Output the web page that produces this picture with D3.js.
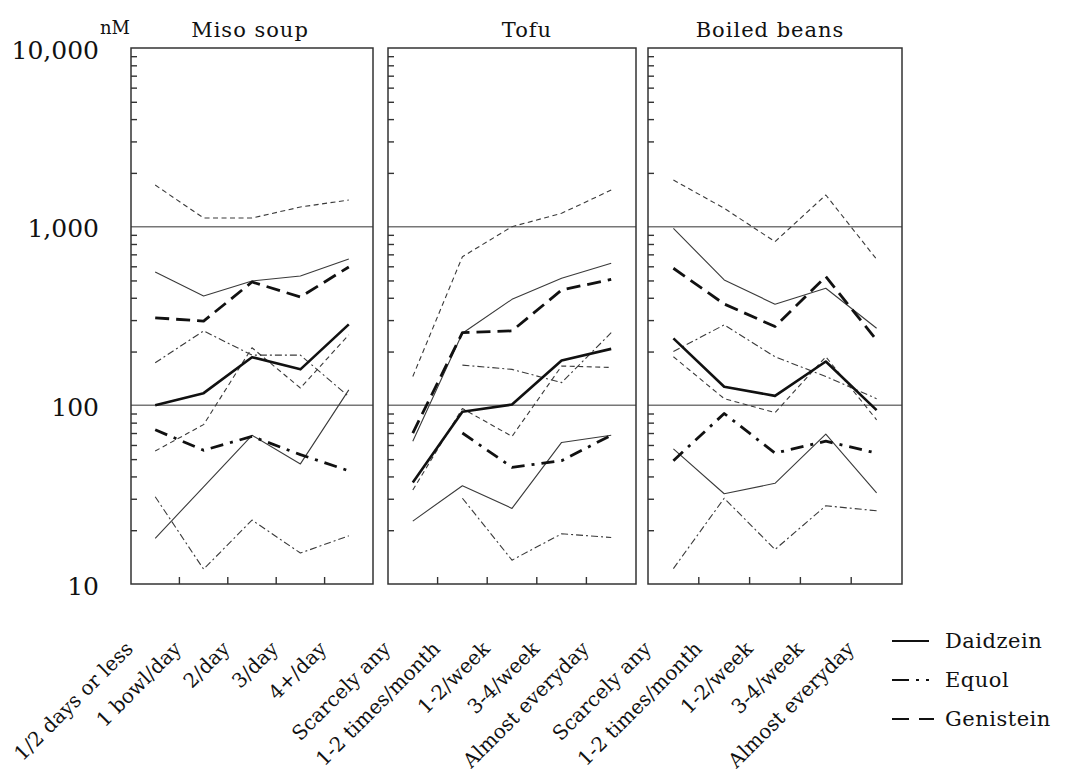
<!DOCTYPE html>
<html>

<head>
    <meta charset="UTF-8">
    <title>Isoflavones by soy food intake</title>
    <script src="https://d3js.org/d3.v7.min.js"></script>
    <style>
        body { margin: 0; background: #fff; }
        svg text { font-family: "DejaVu Serif", "Liberation Serif", serif; fill: #111; }
    </style>
</head>

<body>
    <div class="canvas"></div>

    <script>
        // panels & categories
        const panelNames = ["Miso soup", "Tofu", "Boiled beans"];
        const misoFreq = ["1/2 days or less", "1 bowl/day", "2/day", "3/day", "4+/day"];
        const tofuFreq = ["Scarcely any", "1-2 times/month", "1-2/week", "3-4/week", "Almost everyday"];
        const beansFreq = ["Scarcely any", "1-2 times/month", "1-2/week", "3-4/week", "Almost everyday"];
        const yTickLabels = [10, 100, 1000, 10000];

        // values (nM) per panel: [miso, tofu, beans]; thick = median, thin = upper / lower
        const daidzeinMid = [[100, 117, 186, 159, 284], [37, 92, 101, 178, 207], [237, 127, 113, 176, 94]];
        const equolMid = [[73, 56, 67, 53, 43], [null, 70, 45, 49, 68], [49, 90, 54, 63, 54]];
        const genisteinMid = [[309, 296, 490, 404, 595], [70, 255, 261, 442, 507], [585, 369, 276, 525, 232]];

        const daidzeinHigh = [[557, 409, 497, 530, 659], [63, 253, 392, 514, 624], [979, 503, 368, 452, 270]];
        const equolHigh = [[173, 261, 191, 191, 112], [null, 168, 159, 134, 255], [200, 282, 187, 145, 109]];
        const genisteinHigh = [[1710, 1118, 1118, 1288, 1410], [145, 679, 1000, 1188, 1604], [1824, 1267, 824, 1504, 657]];

        const daidzeinLow = [[18, 35, 68, 47, 122], [22.5, 35.5, 26.5, 62, 68], [57, 32, 36.6, 69, 32.4]];
        const equolLow = [[30.8, 12.1, 22.8, 14.9, 18.6], [null, 30.2, 13.6, 19.1, 18.2], [12.2, 30.2, 15.6, 27.4, 25.7]];
        const genisteinLow = [[55.5, 78, 210, 125, 248], [33.6, 96, 67, 166, 163], [187, 109, 91, 187, 83]];

        const legendNames = ["Daidzein", "Equol", "Genistein"];

        // dimensions
        const width = 1082;
        const height = 777;
        const plotTop = 48, plotBottom = 584;
        const panelX = [[131, 373], [388, 636], [648, 902]];
        const titleShift = [-2, 15, -5];
        const cats = [misoFreq, tofuFreq, beansFreq];
        const serif = '"DejaVu Serif", "Liberation Serif", serif';

        // line styles
        const styles = {
            Daidzein: { thick: { w: 2.6, dash: null }, thin: { w: 1.1, dash: null } },
            Equol: { thick: { w: 2.8, dash: "13,7,3,7" }, thin: { w: 1.1, dash: "7,3,2,3" } },
            Genistein: { thick: { w: 2.8, dash: "14,7" }, thin: { w: 1.1, dash: "5,3.5" } }
        };

        const series = [
            { name: "Daidzein", kind: "thin", values: daidzeinHigh },
            { name: "Equol", kind: "thin", values: equolHigh },
            { name: "Genistein", kind: "thin", values: genisteinHigh },
            { name: "Daidzein", kind: "thin", values: daidzeinLow },
            { name: "Equol", kind: "thin", values: equolLow },
            { name: "Genistein", kind: "thin", values: genisteinLow },
            { name: "Genistein", kind: "thick", values: genisteinMid },
            { name: "Equol", kind: "thick", values: equolMid },
            { name: "Daidzein", kind: "thick", values: daidzeinMid }
        ];

        const svg = d3.select(".canvas")
            .append("svg")
            .attr("width", width)
            .attr("height", height)
            .attr("font-family", serif)
            .style("background", "#fff");

        const yScale = d3.scaleLog()
            .domain([10, 10000])
            .range([plotBottom, plotTop]);

        // y labels (left of first panel)
        const yAxis = d3.axisLeft(yScale)
            .tickValues(yTickLabels)
            .tickFormat(d3.format(","))
            .tickSize(0)
            .tickPadding(0);

        const yAxisGroup = svg.append("g")
            .attr("transform", "translate(99, 2)")
            .call(yAxis)
            .attr("font-family", serif);
        yAxisGroup.select(".domain").remove();
        yAxisGroup.selectAll("text")
            .attr("font-size", 25)
            .attr("fill", "#111");

        svg.append("text")
            .attr("x", 100)
            .attr("y", 34)
            .attr("font-size", 18)
            .text("nM");

        panelNames.forEach((name, i) => {
            const [x0, x1] = panelX[i];
            const xScale = d3.scaleBand()
                .domain(cats[i])
                .range([x0, x1])
                .padding(0);

            const g = svg.append("g");

            // decade lines
            g.selectAll("line.grid")
                .data([100, 1000])
                .enter()
                .append("line")
                .attr("x1", x0).attr("x2", x1)
                .attr("y1", (d) => yScale(d)).attr("y2", (d) => yScale(d))
                .attr("stroke", "#777")
                .attr("stroke-width", 1.5);

            // minor ticks inside left edge
            const minor = yScale.ticks().filter((d) => !yTickLabels.includes(d));
            const tickAxis = d3.axisRight(yScale)
                .tickValues(minor)
                .tickSize(6)
                .tickFormat("");
            const tg = g.append("g")
                .attr("transform", `translate(${x0}, 0)`)
                .call(tickAxis);
            tg.select(".domain").remove();
            tg.selectAll("line").attr("stroke", "#333").attr("stroke-width", 1.4);

            // bottom ticks between categories
            g.selectAll("line.xt")
                .data(cats[i].slice(1))
                .enter()
                .append("line")
                .attr("x1", (d) => xScale(d)).attr("x2", (d) => xScale(d))
                .attr("y1", plotBottom).attr("y2", plotBottom - 7)
                .attr("stroke", "#333")
                .attr("stroke-width", 1.4);

            // frame
            g.append("rect")
                .attr("x", x0).attr("y", plotTop)
                .attr("width", x1 - x0).attr("height", plotBottom - plotTop)
                .attr("fill", "none")
                .attr("stroke", "#333")
                .attr("stroke-width", 1.5);

            // title
            svg.append("text")
                .attr("x", (x0 + x1) / 2 + titleShift[i])
                .attr("y", 37)
                .attr("text-anchor", "middle")
                .attr("font-size", 21)
                .attr("letter-spacing", 1)
                .text(name);

            // lines
            const line = d3.line()
                .defined((d) => d.v != null)
                .x((d) => xScale(d.c) + xScale.bandwidth() / 2)
                .y((d) => yScale(d.v));

            series.forEach((s) => {
                const st = styles[s.name][s.kind];
                const pts = cats[i].map((c, j) => ({ c: c, v: s.values[i][j] }));
                g.append("path")
                    .datum(pts)
                    .attr("d", line)
                    .attr("fill", "none")
                    .attr("stroke", s.kind === "thick" ? "#111" : "#3a3a3a")
                    .attr("stroke-width", st.w)
                    .attr("stroke-dasharray", st.dash)
                    .attr("stroke-linejoin", "round");
            });

            // category labels
            svg.append("g")
                .selectAll("text")
                .data(cats[i])
                .enter()
                .append("text")
                .attr("transform", (d) => `translate(${xScale(d) + xScale.bandwidth() / 2 - 21}, 650) rotate(-45)`)
                .attr("text-anchor", "end")
                .attr("font-size", 20)
                .text((d) => d);
        });

        // legend
        const legendDash = { Daidzein: null, Equol: "17,7,3,7,3,20", Genistein: "17,10,15,20" };
        const legend = svg.append("g")
            .attr("transform", "translate(892, 641)");

        legendNames.forEach((n, i) => {
            legend.append("line")
                .attr("x1", 0).attr("x2", i === 0 ? 37 : 42)
                .attr("y1", i * 39).attr("y2", i * 39)
                .attr("stroke", "#111")
                .attr("stroke-width", 2.2)
                .attr("stroke-dasharray", legendDash[n]);
            legend.append("text")
                .attr("x", 53)
                .attr("y", i * 39)
                .attr("dy", "0.35em")
                .attr("font-size", 21)
                .attr("letter-spacing", 0.5)
                .text(n);
        });
    </script>
</body>

</html>
